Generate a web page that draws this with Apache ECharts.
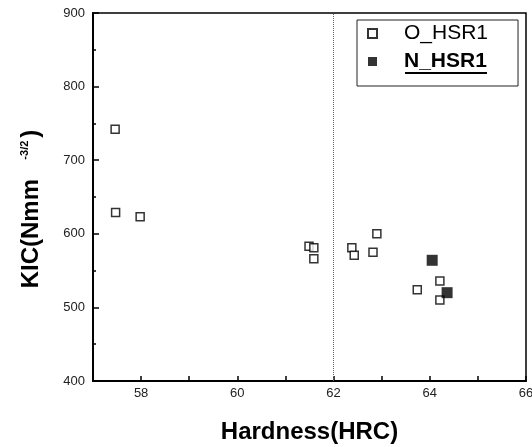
<!DOCTYPE html>
<html>
<head>
<meta charset="utf-8">
<script src="https://cdn.jsdelivr.net/npm/echarts@6/dist/echarts.min.js"></script>
<style>
  html, body { margin: 0; padding: 0; background: #fff; }
  #main { width: 532px; height: 447px; }
</style>
</head>
<body>
<div id="main"></div>
<script>
// hardness (HRC) vs fracture toughness KIC
var oHardness = [57.46, 57.47, 57.98, 61.49, 61.59, 61.59, 62.38, 62.43, 62.82, 62.90, 63.74, 64.21, 64.21];
var oKic      = [742,   629,   623,   583,   581,   566,   581,   571,   575,   600,   524,   536,   510];
var nHardness = [64.05, 64.36];
var nKic      = [564,   520];
var xRange = [57, 66];
var yRange = [400, 900];
var dividerHrc = 62;

var zip = function(xs, ys) {
  var res = [];
  for (var i = 0; i < xs.length; i++) res.push([xs[i], ys[i]]);
  return res;
};

var font = 'Liberation Sans, Arial, sans-serif';
var myChart = echarts.init(document.getElementById('main'));

var option = {
  animation: false,
  backgroundColor: '#fff',
  textStyle: { fontFamily: font },
  grid: {
    left: 93, right: 6, top: 13, bottom: 66,
    outerBoundsMode: 'none',
    containLabel: false,
    show: true, borderColor: '#000', borderWidth: 1.5
  },
  legend: {
    orient: 'vertical',
    left: 357, top: 20,
    padding: [3, 30, 14, 10],
    itemGap: 7,
    itemWidth: 9, itemHeight: 9,
    borderColor: '#222', borderWidth: 1,
    textStyle: {
      fontSize: 21, color: '#000', padding: [0, 0, 0, 22],
      rich: { b: { fontSize: 21, fontWeight: 'bold', color: '#000', fontFamily: font } }
    },
    formatter: function(name) {
      return name === 'N_HSR1' ? '{b|' + name + '}' : name;
    },
    data: ['O_HSR1', 'N_HSR1']
  },
  // underline under the N_HSR1 legend text
  graphic: [{
    type: 'line',
    shape: { x1: 405, y1: 73, x2: 487, y2: 73 },
    style: { stroke: '#000', lineWidth: 2 }
  }],
  xAxis: {
    type: 'value',
    min: xRange[0], max: xRange[1], interval: 1,
    name: 'Hardness(HRC)',
    nameLocation: 'middle',
    nameGap: 39,
    nameTextStyle: { fontSize: 24, fontWeight: 'bold', color: '#000' },
    axisLine: { lineStyle: { color: '#000', width: 2 } },
    axisTick: { inside: true, length: 5, lineStyle: { color: '#000', width: 1.5 } },
    axisLabel: {
      margin: 6, fontSize: 13, color: '#222',
      formatter: function(v) { return v % 2 === 0 ? v : ''; }
    },
    splitLine: { show: false }
  },
  yAxis: {
    type: 'value',
    min: yRange[0], max: yRange[1], interval: 100,
    name: '{a|KIC(Nmm  }{s|-3/2}{a|)}',
    nameLocation: 'middle',
    nameRotate: 90,
    nameGap: 49,
    nameTextStyle: {
      padding: [0, 24, 0, 0],
      rich: {
        a: { fontSize: 24, fontWeight: 'bold', color: '#000', fontFamily: font },
        s: { fontSize: 11, fontWeight: 'bold', color: '#000', fontFamily: font, verticalAlign: 'top', padding: [0, 3, 14, 6] }
      }
    },
    axisLine: { lineStyle: { color: '#000', width: 2 } },
    axisTick: { inside: true, length: 6, lineStyle: { color: '#000', width: 1.5 } },
    minorTick: { show: true, splitNumber: 2, length: 3, lineStyle: { color: '#000', width: 1.5 } },
    axisLabel: { margin: 8, fontSize: 13, color: '#222' },
    splitLine: { show: false }
  },
  series: [
    {
      name: 'O_HSR1',
      type: 'scatter',
      symbol: 'rect',
      symbolSize: 8,
      itemStyle: { color: '#fff', borderColor: '#000', borderWidth: 1.5 },
      data: zip(oHardness, oKic),
      markLine: {
        silent: true,
        symbol: 'none',
        label: { show: false },
        lineStyle: { type: 'dotted', color: '#666', width: 1 },
        data: [{ xAxis: dividerHrc }]
      },
      z: 2
    },
    {
      name: 'N_HSR1',
      type: 'scatter',
      symbol: 'rect',
      symbolSize: 11,
      itemStyle: { color: '#000' },
      data: zip(nHardness, nKic),
      z: 3
    }
  ]
};
myChart.setOption(option);
</script>
</body>
</html>
